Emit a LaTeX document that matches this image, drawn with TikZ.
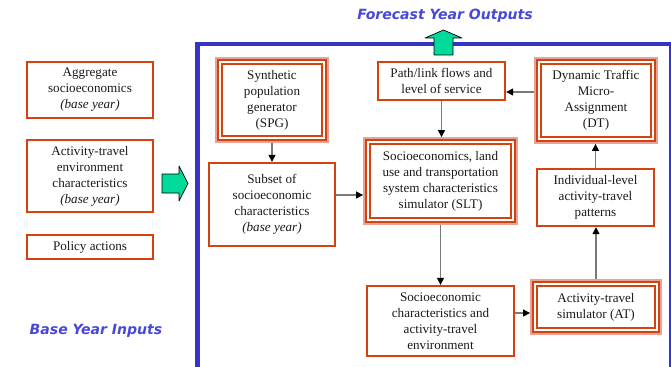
\documentclass[tikz,border=0pt]{standalone}
\usepackage{fontspec}
\setmainfont{Liberation Serif}
\newfontfamily\boxfont{Liberation Serif}
\newfontfamily\headfont{DejaVu Sans}
\usetikzlibrary{arrows.meta}
\definecolor{ink}{HTML}{1A1A1A}
\definecolor{rd}{HTML}{D3420F}
\definecolor{pk}{HTML}{EAA296}
\definecolor{bl}{HTML}{3434C8}
\definecolor{bt}{HTML}{4848D8}
\definecolor{gn}{HTML}{00DA9A}
\definecolor{gr}{HTML}{7A7A7A}
\tikzset{
  box/.style={draw=rd,fill=white,line width=1.9pt,outer sep=1pt,align=center,inner sep=1pt,font=\boxfont\fontsize{11.2}{13.6}\selectfont,text=ink},
  dbox/.style={box,line width=1.6pt,double=white,double distance=1.1pt,outer sep=4.2pt,preaction={draw=pk,line width=8.5pt}},
  link/.style={-{Triangle[length=6pt,width=6pt,color=black]},line width=1.1pt,gr},
  fat/.style={fill=gn,draw=black,line width=0.6pt,line join=round},
  head/.style={font=\headfont\bfseries\itshape\fontsize{12}{14}\selectfont,text=bt,inner sep=0pt}
}
\newcommand{\by}{\textit{(base year)}}

\begin{document}
\begin{tikzpicture}[x=0.03cm,y=-0.03cm]
\useasboundingbox (0,0) rectangle (671,367);
\clip (0,0) rectangle (671,367);
% frame round the model system
\draw[bl,line width=3.6pt] (197.5,44) rectangle (671.5,380);
\node[head] (fout) at (445,16) {Forecast Year Outputs};
\node[head] (bin)  at (96,331) {Base Year Inputs};
% base year inputs
\node[box,minimum width=3.78cm,minimum height=1.68cm] (agg)    at (90,90)  {Aggregate\\ socioeconomics\\ \by};
\node[box,minimum width=3.78cm,minimum height=2.16cm] (atenv)  at (90,176) {Activity-travel\\ environment\\ characteristics\\ \by};
\node[box,minimum width=3.78cm,minimum height=0.72cm] (policy) at (90,247) {Policy actions};
% model components
\node[dbox,minimum width=3.12cm,minimum height=2.28cm] (spg)    at (272,100)   {Synthetic\\ population\\ generator\\ (SPG)};
\node[box, minimum width=3.78cm,minimum height=2.49cm] (subset) at (272,204.5) {Subset of\\ socioeconomic\\ characteristics\\ \by};
\node[box, minimum width=3.81cm,minimum height=1.14cm] (flows)  at (441.5,81)  {Path/link flows and\\ level of service};
\node[dbox,minimum width=4.35cm,minimum height=2.34cm] (slt)    at (440.5,181) {Socioeconomics, land\\ use and transportation\\ system characteristics\\ simulator (SLT)};
\node[box, minimum width=4.41cm,minimum height=2.10cm] (env)    at (440.5,321) {Socioeconomic\\ characteristics and\\ activity-travel\\ environment};
\node[dbox,minimum width=3.42cm,minimum height=2.31cm] (dt)     at (596,100.5) {Dynamic Traffic\\ Micro-\\ Assignment\\ (DT)};
\node[box, minimum width=3.51cm,minimum height=1.71cm] (indiv)  at (595.5,197.5) {Individual-level\\ activity-travel\\ patterns};
\node[dbox,minimum width=3.66cm,minimum height=1.38cm] (at)     at (596,307)   {Activity-travel\\ simulator (AT)};
% links
\draw[link] (spg) -- (subset);
\draw[link] (subset.east |- 0,195) -- (slt.west |- 0,195);
\draw[link] (flows.south) -- (flows.south |- slt.north);
\draw[link] (dt.west |- 0,92) -- (flows.east |- 0,92);
\draw[link] (indiv.north) -- (indiv.north |- dt.south);
\draw[link] (slt.south) -- (slt.south |- env.north);
\draw[link] (env.east |- 0,313) -- (at.west |- 0,313);
\draw[link] (at.north) -- (at.north |- indiv.south);
% block arrows in and out
\draw[fat] (162,174) -- (179,174) -- (179,166) -- (188,183.5) -- (179,201) -- (179,193) -- (162,193) -- cycle;
\draw[fat] (434,55) -- (434,38) -- (425,38) -- (443.5,30) -- (462,38) -- (453,38) -- (453,55) -- cycle;
\end{tikzpicture}
\end{document}
